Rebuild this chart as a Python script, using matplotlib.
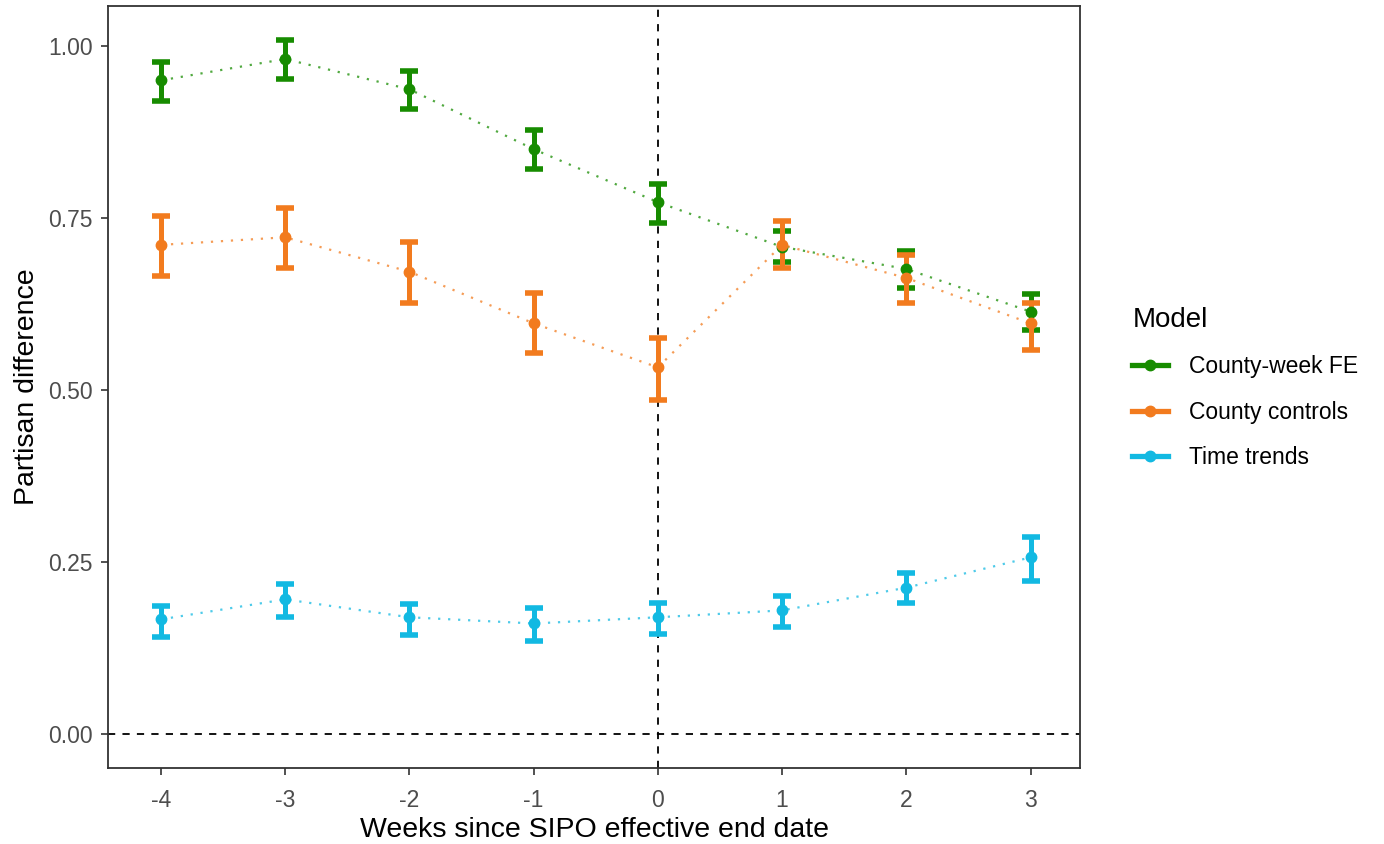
import matplotlib
matplotlib.use("Agg")
import matplotlib.pyplot as plt
from matplotlib.lines import Line2D
import numpy as np

plt.rcParams['font.family'] = ['Liberation Sans', 'DejaVu Sans']

weeks = [-4, -3, -2, -1, 0, 1, 2, 3]
models = ["County-week FE", "County controls", "Time trends"]
colors = ["#178C00", "#F27B1E", "#12B9E2"]

fe_est = [0.950, 0.981, 0.937, 0.850, 0.773, 0.708, 0.676, 0.614]
fe_lo = [0.920, 0.952, 0.908, 0.821, 0.743, 0.686, 0.649, 0.587]
fe_hi = [0.977, 1.009, 0.964, 0.878, 0.799, 0.731, 0.702, 0.640]

cc_est = [0.711, 0.722, 0.672, 0.597, 0.533, 0.711, 0.663, 0.597]
cc_lo = [0.666, 0.677, 0.627, 0.554, 0.485, 0.677, 0.627, 0.558]
cc_hi = [0.753, 0.764, 0.715, 0.641, 0.575, 0.745, 0.697, 0.627]

tt_est = [0.167, 0.196, 0.170, 0.161, 0.170, 0.180, 0.213, 0.257]
tt_lo = [0.141, 0.171, 0.144, 0.136, 0.145, 0.156, 0.191, 0.222]
tt_hi = [0.186, 0.218, 0.189, 0.183, 0.191, 0.201, 0.235, 0.286]

series = [(fe_est, fe_lo, fe_hi), (cc_est, cc_lo, cc_hi), (tt_est, tt_lo, tt_hi)]

fig = plt.figure(figsize=(13.84, 8.44), dpi=100)
ax = fig.add_axes([0.078, 0.090, 0.7025, 0.9029])

ax.axhline(0, color="black", ls=(0, (4, 4)), lw=1.3, zorder=1)
ax.axvline(0, color="black", ls=(0, (4, 4)), lw=1.3, zorder=1)

x = np.array(weeks, dtype=float)
for (est, lo, hi), col in zip(series, colors):
    est = np.array(est); lo = np.array(lo); hi = np.array(hi)
    ax.plot(x, est, ls=(0, (1, 3.5)), color=col, lw=1.6, alpha=0.75, zorder=2)
    ax.errorbar(x, est, yerr=[est - lo, hi - est], fmt='o', color=col,
                ms=7.5, elinewidth=3.6, capsize=6.5, capthick=4, zorder=3)

ax.set_xlim(-4.427, 3.40)
ax.set_ylim(-0.049, 1.058)
ax.set_xticks(weeks)
ax.set_xticklabels([str(w) for w in weeks])
ax.set_yticks([0, 0.25, 0.5, 0.75, 1.0])
ax.set_yticklabels(["0.00", "0.25", "0.50", "0.75", "1.00"])
ax.tick_params(axis='both', colors="#333333", labelcolor="#4D4D4D",
               labelsize=16.5, length=5, width=1.2, direction='out')
ax.tick_params(axis='x', pad=10)
ax.tick_params(axis='y', pad=6)
for s in ax.spines.values():
    s.set_color("#333333")
    s.set_linewidth(1.3)

ax.set_xlabel("Weeks since SIPO effective end date", fontsize=20.5, color="black", labelpad=4)
ax.set_ylabel("Partisan difference", fontsize=20.5, color="black", labelpad=6)

handles = [Line2D([0], [0], color=c, lw=3.8, marker='o', ms=7.5) for c in colors]
leg = fig.legend(handles, models, loc='upper left', bbox_to_anchor=(0.8100, 0.650),
                 frameon=False, title="Model", fontsize=16.5, title_fontsize=20,
                 handlelength=1.55, labelspacing=0.98, handletextpad=0.9,
                 borderpad=0, alignment='left')

fig.savefig("out.png", dpi=100)
